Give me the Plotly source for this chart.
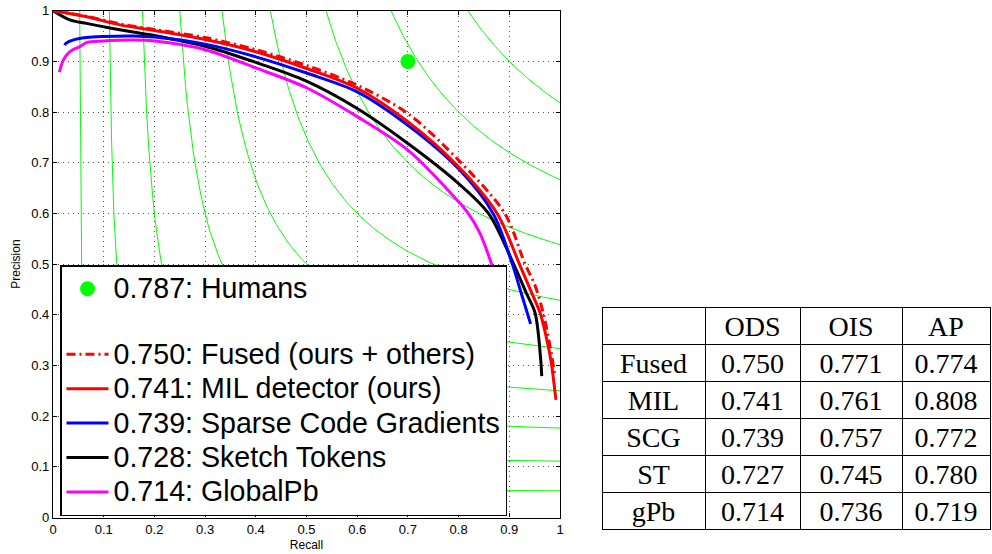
import numpy as np
import plotly.graph_objects as go

W, H = 992, 554

# ---------------- data ----------------
f_levels = [0.1, 0.2, 0.3, 0.4, 0.5, 0.6, 0.7, 0.8, 0.9]

human_r = [0.70]
human_p = [0.90]

fused_r = [0, 0.066, 0.132, 0.2, 0.3, 0.4, 0.5, 0.6, 0.7, 0.8, 0.891, 0.931, 0.95, 0.967, 0.98, 0.99]
fused_p = [1, 0.989, 0.974, 0.963, 0.947, 0.923, 0.892, 0.853, 0.797, 0.705, 0.6, 0.5, 0.46, 0.403, 0.34, 0.28]

mil_r = [0, 0.066, 0.132, 0.2, 0.3, 0.4, 0.5, 0.6, 0.7, 0.8, 0.876, 0.92, 0.94, 0.961, 0.972, 0.982, 0.992]
mil_p = [1, 0.988, 0.972, 0.961, 0.943, 0.919, 0.886, 0.847, 0.781, 0.692, 0.6, 0.5, 0.453, 0.403, 0.36, 0.311, 0.232]

scg_r = [0.023, 0.026, 0.039, 0.066, 0.099, 0.158, 0.2, 0.3, 0.4, 0.5, 0.6, 0.7, 0.8, 0.868, 0.906, 0.924, 0.942]
scg_p = [0.932, 0.936, 0.942, 0.947, 0.949, 0.950, 0.948, 0.934, 0.909, 0.877, 0.840, 0.774, 0.688, 0.6, 0.5, 0.441, 0.382]

st_r = [0, 0.033, 0.066, 0.112, 0.158, 0.2, 0.3, 0.4, 0.5, 0.6, 0.7, 0.8, 0.859, 0.905, 0.934, 0.951, 0.962, 0.964]
st_p = [1, 0.982, 0.975, 0.966, 0.958, 0.951, 0.930, 0.898, 0.861, 0.807, 0.738, 0.659, 0.6, 0.508, 0.442, 0.403, 0.311, 0.279]

gpb_r = [0.0125, 0.02, 0.03, 0.039, 0.053, 0.066, 0.099, 0.158, 0.2, 0.3, 0.4, 0.5, 0.6, 0.7, 0.8, 0.819, 0.842, 0.865, 0.88, 0.89]
gpb_p = [0.879, 0.902, 0.916, 0.923, 0.929, 0.937, 0.940, 0.942, 0.940, 0.923, 0.887, 0.848, 0.791, 0.725, 0.623, 0.6, 0.561, 0.5, 0.45, 0.4]

legend_names = ["0.787: Humans", "0.750: Fused (ours + others)", "0.741: MIL detector (ours)",
                "0.739: Sparse Code Gradients", "0.728: Sketch Tokens", "0.714: GlobalPb"]

table_header = ["", "ODS", "OIS", "AP"]
table_methods = ["Fused", "MIL", "SCG", "ST", "gPb"]
table_ods = ["0.750", "0.741", "0.739", "0.727", "0.714"]
table_ois = ["0.771", "0.761", "0.757", "0.745", "0.736"]
table_ap = ["0.774", "0.808", "0.772", "0.780", "0.719"]

# ---------------- figure ----------------
fig = go.Figure()

GREEN = "#00ff00"


def lbl(s):
    return '<span style="font-size:28.6px">' + s + '</span>'


# iso-F contours
for f in f_levels:
    r = np.linspace(f / (2 - f), 1.0, 200)
    p = f * r / (2 * r - f)
    fig.add_trace(go.Scatter(x=r, y=p, mode="lines", line=dict(color=GREEN, width=1),
                             showlegend=False, hoverinfo="skip"))

LW = 3
SM = 0.9
fig.add_trace(go.Scatter(x=gpb_r, y=gpb_p, mode="lines", line=dict(color="#ff00ff", width=LW, shape="spline", smoothing=SM),
                         name=lbl(legend_names[5]), legendgroup="b", legendrank=6))
fig.add_trace(go.Scatter(x=st_r, y=st_p, mode="lines", line=dict(color="#000000", width=LW, shape="spline", smoothing=SM),
                         name=lbl(legend_names[4]), legendgroup="b", legendrank=5))
fig.add_trace(go.Scatter(x=scg_r, y=scg_p, mode="lines", line=dict(color="#0000ff", width=LW, shape="spline", smoothing=SM),
                         name=lbl(legend_names[3]), legendgroup="b", legendrank=4))
fig.add_trace(go.Scatter(x=mil_r, y=mil_p, mode="lines", line=dict(color="#ff0000", width=LW, shape="spline", smoothing=SM),
                         name=lbl(legend_names[2]), legendgroup="b", legendrank=3))
fig.add_trace(go.Scatter(x=fused_r, y=fused_p, mode="lines",
                         line=dict(color="#ff0000", width=LW, dash="9px,4px,2px,4px", shape="spline", smoothing=SM),
                         name=lbl(legend_names[1]), legendgroup="b", legendrank=2))
fig.add_trace(go.Scatter(x=human_r, y=human_p, mode="markers",
                         marker=dict(color=GREEN, size=15, line=dict(width=0)),
                         name=lbl(legend_names[0]), legendgroup="a", legendrank=1))

# table
tfont = dict(family="Liberation Serif", size=28, color="black")
fig.add_trace(go.Table(
    domain=dict(x=[602 / W, 990 / W], y=[1 - 530 / H, 1 - 307 / H]),
    columnwidth=[103, 95, 102, 88],
    header=dict(values=table_header, height=37, align="center",
                line=dict(color="black", width=1), fill=dict(color="white"), font=tfont),
    cells=dict(values=[table_methods, table_ods, table_ois, table_ap], height=37, align="center",
               line=dict(color="black", width=1), fill=dict(color="white"), font=tfont),
))

x0, x1 = 53 / W, 560 / W
y0, y1 = 1 - 517.5 / H, 1 - 10.7 / H

axis_common = dict(range=[0, 1], dtick=0.1, tick0=0, showline=True, linecolor="black", linewidth=1.2,
                   mirror="ticks", ticks="inside", ticklen=4, tickcolor="black", tickwidth=1,
                   showgrid=True, gridcolor="rgb(80,80,80)", griddash="1px,4px", gridwidth=1,
                   zeroline=False, tickfont=dict(family="Liberation Sans", size=13, color="black"),
                   automargin=False, fixedrange=True)

fig.update_layout(
    width=W, height=H,
    margin=dict(l=0, r=0, t=0, b=0),
    paper_bgcolor="white", plot_bgcolor="white",
    xaxis=dict(domain=[x0, x1], title=dict(text="Recall", font=dict(family="Liberation Sans", size=12, color="black"), standoff=4),
               **axis_common),
    yaxis=dict(domain=[y0, y1], title=dict(text="Precision", font=dict(family="Liberation Sans", size=12, color="black"), standoff=0),
               tickprefix="\u00a0\u00a0", **axis_common),
    legend=dict(x=60 / W, y=1 - 265 / H, xanchor="left", yanchor="top",
                bgcolor="white", bordercolor="black", borderwidth=1.5,
                font=dict(family="Liberation Sans", size=24.2, color="black"),
                traceorder="grouped", tracegroupgap=31, itemwidth=42),
    showlegend=True,
)

fig.write_html("out.html", config={"displayModeBar": False},
               post_script="document.body.style.margin='0';document.body.style.padding='0';")
